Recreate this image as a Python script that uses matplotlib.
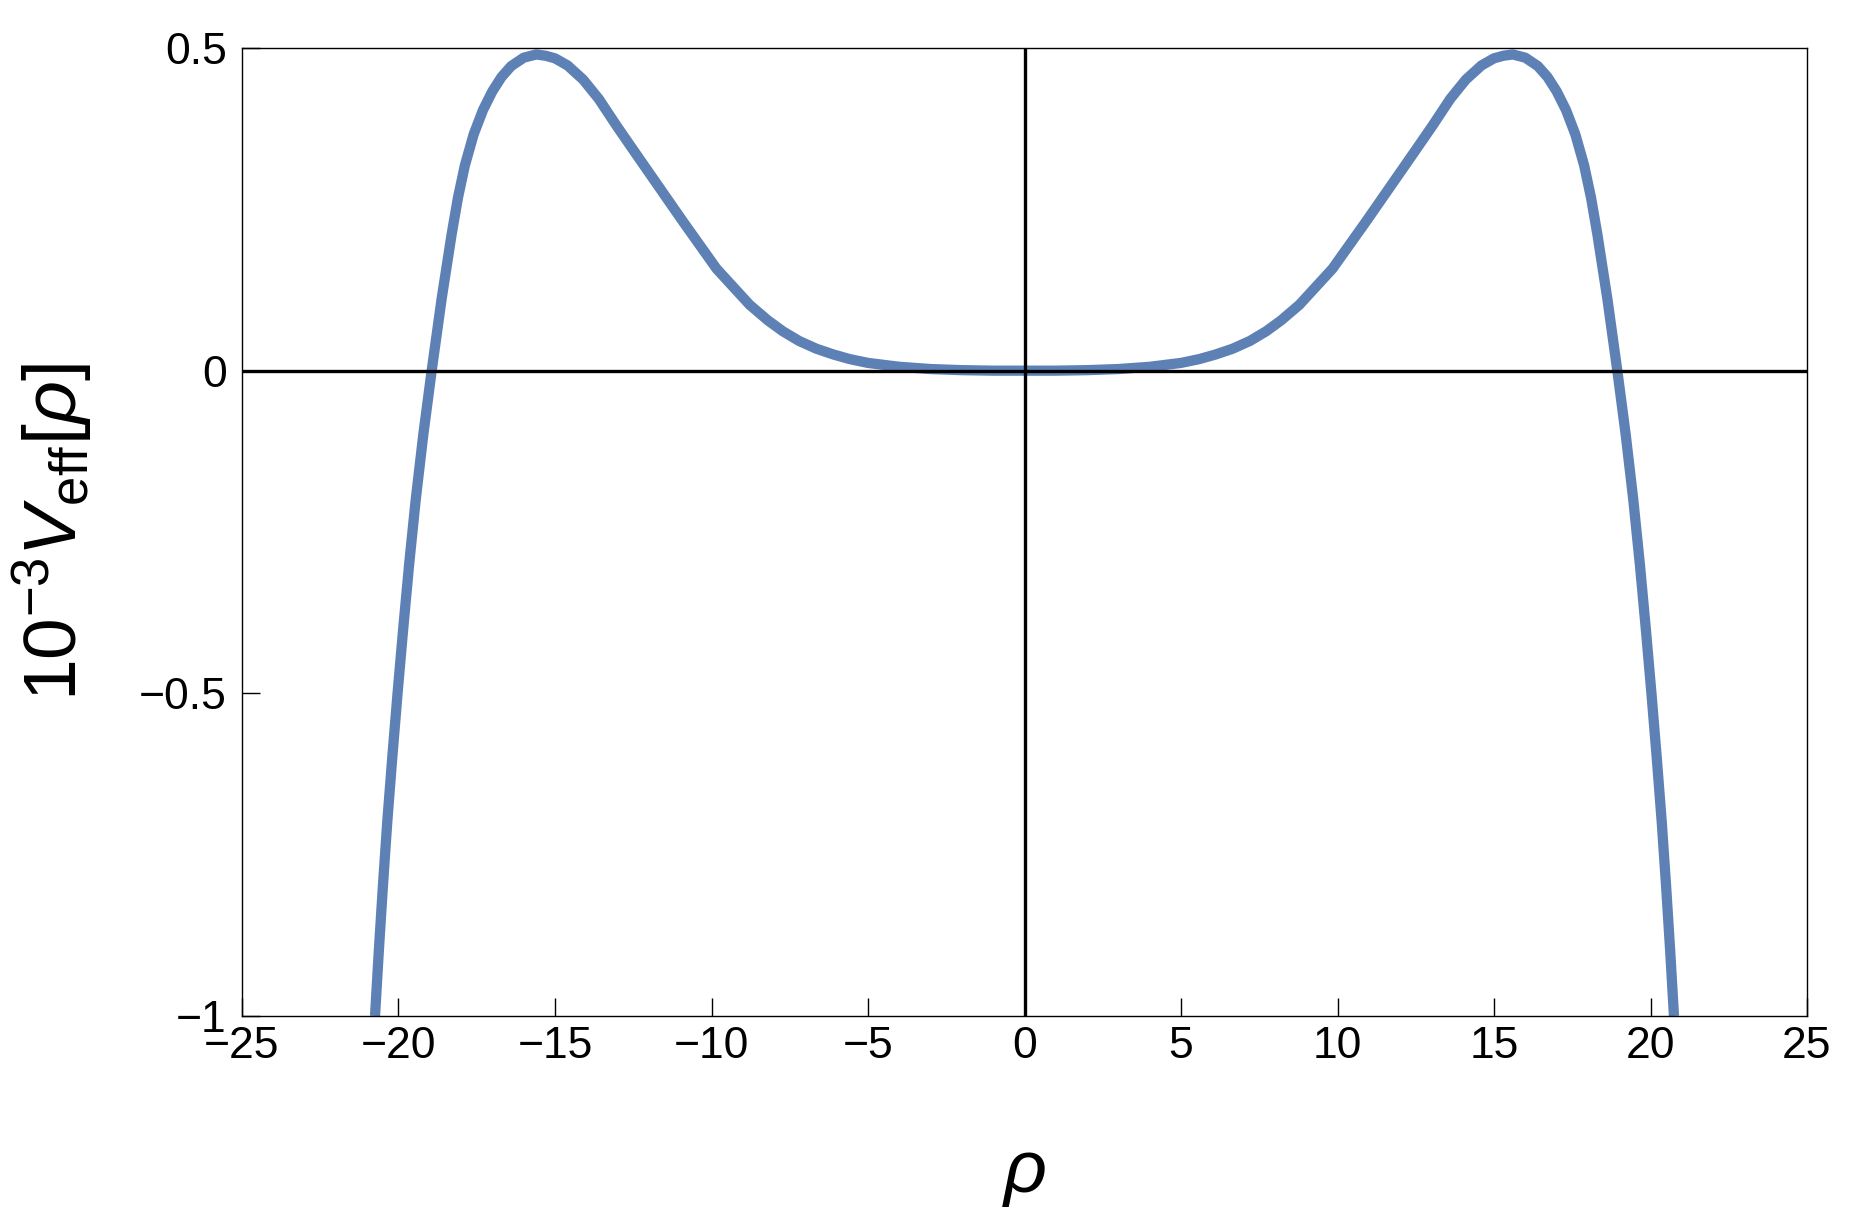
import matplotlib
matplotlib.use('Agg')
import matplotlib.pyplot as plt

plt.rcParams['font.family'] = ['Liberation Sans', 'DejaVu Sans']
plt.rcParams['mathtext.fontset'] = 'custom'
plt.rcParams['mathtext.rm'] = 'Liberation Sans'
plt.rcParams['mathtext.it'] = 'Liberation Sans:italic'
plt.rcParams['mathtext.bf'] = 'Liberation Sans:bold'

# values (left half, centre, right half)
rho_left = [-20.75, -20.63, -20.50, -20.36, -20.20, -20.03, -19.85, -19.66, -19.45,
            -19.21, -18.94, -18.62, -18.30, -18.10, -17.88, -17.60, -17.30, -17.00,
            -16.71, -16.40, -16.00, -15.60, -15.30, -15.00, -14.60, -14.10, -13.60,
            -13.04, -12.50, -11.97, -10.91, -9.84, -8.78, -8.20, -7.72, -7.20,
            -6.65, -6.10, -5.59, -5.00, -4.00, -3.00, -2.00, -1.00]
v_left = [-1.000, -0.900, -0.800, -0.700, -0.600, -0.500, -0.400, -0.300, -0.200,
          -0.100, 0.000, 0.112, 0.212, 0.268, 0.318, 0.366, 0.404, 0.433,
          0.455, 0.472, 0.485, 0.490, 0.488, 0.484, 0.473, 0.451, 0.421,
          0.380, 0.342, 0.305, 0.231, 0.158, 0.102, 0.078, 0.061, 0.046,
          0.034, 0.025, 0.018, 0.012, 0.006, 0.0025, 0.0008, 0.000]
rho_mid = [0.0]
v_mid = [0.000]
rho_right = [1.00, 2.00, 3.00, 4.00, 5.00, 5.59, 6.10, 6.65, 7.20, 7.72, 8.20, 8.78,
             9.84, 10.91, 11.97, 12.50, 13.04, 13.60, 14.10, 14.60, 15.00, 15.30,
             15.60, 16.00, 16.40, 16.71, 17.00, 17.30, 17.60, 17.88, 18.10, 18.30,
             18.62, 18.94, 19.21, 19.45, 19.66, 19.85, 20.03, 20.20, 20.36, 20.50,
             20.63, 20.75]
v_right = [0.000, 0.0008, 0.0025, 0.006, 0.012, 0.018, 0.025, 0.034, 0.046, 0.061,
           0.078, 0.102, 0.158, 0.231, 0.305, 0.342, 0.380, 0.421, 0.451, 0.473,
           0.484, 0.488, 0.490, 0.485, 0.472, 0.455, 0.433, 0.404, 0.366, 0.318,
           0.268, 0.212, 0.112, 0.000, -0.100, -0.200, -0.300, -0.400, -0.500,
           -0.600, -0.700, -0.800, -0.900, -1.000]
x_ticks = [-25, -20, -15, -10, -5, 0, 5, 10, 15, 20, 25]
y_ticks = [-1, -0.5, 0, 0.5]
y_tick_labels = ['\u22121', '\u22120.5', '0', '0.5']

rho = rho_left + rho_mid + rho_right
v_eff = v_left + v_mid + v_right

fig = plt.figure(figsize=(18.6, 12.27), dpi=100)
ax = fig.add_axes([242 / 1860, 1 - 1016 / 1227, 1565 / 1860, 968 / 1227])

ax.plot(rho, v_eff, color='#5E81B5', lw=7.4, solid_capstyle='butt',
        solid_joinstyle='round', zorder=2)
ax.axhline(0, color='black', lw=2.4, zorder=3)
ax.axvline(0, color='black', lw=2.4, zorder=3)

ax.set_xlim(-25, 25)
ax.set_ylim(-1, 0.5)
ax.set_xticks(x_ticks)
ax.set_yticks(y_ticks)
ax.set_yticklabels(y_tick_labels)
ax.tick_params(axis='both', direction='in', length=13, width=1.0, labelsize=32)
ax.tick_params(axis='x', pad=7)
ax.tick_params(axis='y', pad=11)
for s in ax.spines.values():
    s.set_linewidth(1.0)

ax.set_xlabel(r'$\rho$', fontsize=54)
ax.xaxis.set_label_coords(0.5, -0.128)
ax.set_ylabel(r'$10^{-3}V_{\mathrm{eff}}[\rho]$', fontsize=54)
ax.yaxis.set_label_coords(-0.094, 0.5)

fig.savefig('out.png', dpi=100)
